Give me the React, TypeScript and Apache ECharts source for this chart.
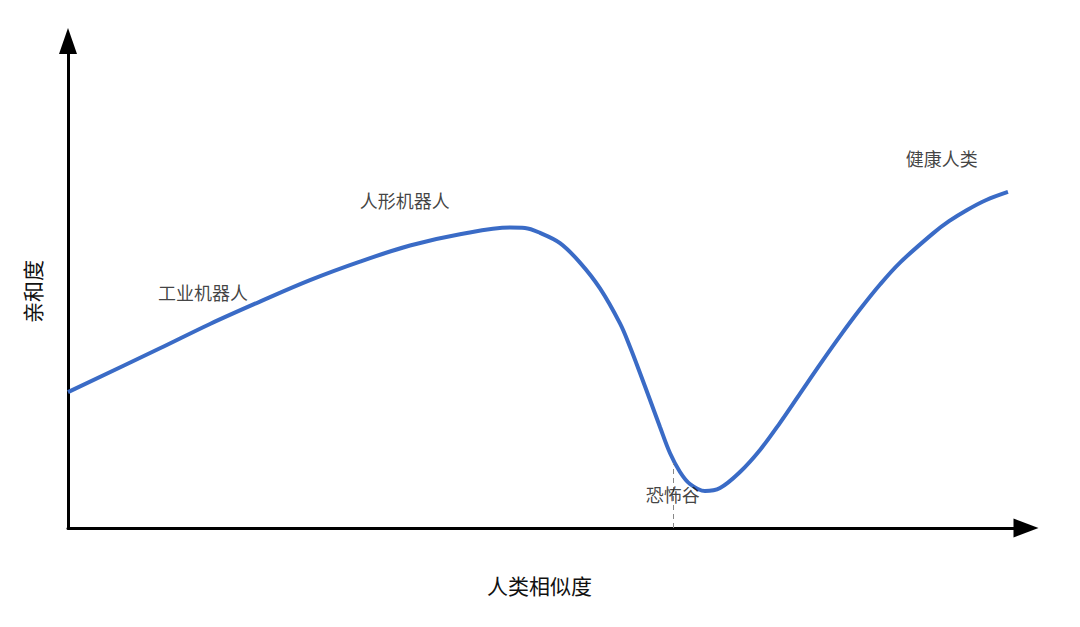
import React, { useEffect, useRef } from "react";
import * as echarts from "echarts";

// Curve: human likeness (x, 0-100) vs affinity (y, 0-100)
const likeness = [0, 9.61, 14.84, 20.06, 25.29, 30.51, 35.74, 40.96, 46.19, 47.75, 49.32, 51.41, 53.5, 55.59, 57.68, 58.73, 59.77, 60.82, 61.86, 62.9, 63.95, 64.99, 66.56, 68.13, 70.22, 72.31, 74.4, 76.49, 78.58, 80.67, 82.76, 84.85, 86.94, 90.39, 92.06, 93.95, 95.9, 98.22];
const affinity = [27.9, 36.9, 41.9, 46.5, 50.9, 54.7, 58.0, 60.3, 61.7, 61.6, 60.6, 58.5, 54.5, 49.2, 42.0, 37.17, 31.83, 26.28, 20.74, 15.4, 11.5, 9.03, 7.6, 8.21, 11.5, 16.02, 21.6, 27.6, 33.6, 39.4, 44.9, 50.0, 54.5, 60.5, 63.0, 65.3, 67.3, 69.0];

// Annotation labels (data coordinates)
const labelNames = ["工业机器人", "人形机器人", "恐怖谷", "健康人类"];
const labelX = [14.1, 35.2, 63.2, 91.3];
const labelY = [48.5, 67.4, 7.0, 76.0];

// Uncanny valley marker
const valleyX = 63.2;
const valleyTop = 13.3;

const xName = "人类相似度";
const yName = "亲和度";

export default function App() {
  const ref = useRef<HTMLDivElement>(null);
  useEffect(() => {
    if (!ref.current) return;
    const chart = echarts.init(ref.current, null, { renderer: "svg" });
    const font = "'Noto Sans CJK SC', 'Noto Sans', sans-serif";
    chart.setOption({
      animation: false,
      backgroundColor: "#ffffff",
      textStyle: { fontFamily: font },
      grid: { left: 68, right: 55, top: 41, bottom: 99 },
      xAxis: {
        type: "value",
        min: 0,
        max: 100,
        name: xName,
        nameLocation: "middle",
        nameGap: 46,
        nameTextStyle: { fontSize: 21, color: "#111", fontFamily: font, padding: [0, 14, 0, 0] },
        axisLine: { show: true, lineStyle: { color: "#000", width: 3 }, symbol: ["none", "triangle"], symbolSize: [19, 25], symbolOffset: [0, 1] },
        axisTick: { show: false },
        axisLabel: { show: false },
        splitLine: { show: false },
      },
      yAxis: {
        type: "value",
        min: 0,
        max: 100,
        name: yName,
        nameLocation: "middle",
        nameGap: 26,
        nameRotate: 90,
        nameTextStyle: { fontSize: 21, color: "#111", fontFamily: font, padding: [0, 14, 0, 0] },
        axisLine: { show: true, lineStyle: { color: "#000", width: 3 }, symbol: ["none", "triangle"], symbolSize: [18, 26], symbolOffset: [0, 0] },
        axisTick: { show: false },
        axisLabel: { show: false },
        splitLine: { show: false },
      },
      series: [
        {
          type: "line",
          data: likeness.map((x, i) => [x, affinity[i]]),
          smooth: 0.35,
          showSymbol: false,
          symbol: "none",
          lineStyle: { color: "#3a6bc6", width: 4 },
          markLine: {
            silent: true,
            symbol: ["none", "none"],
            label: { show: false },
            lineStyle: { color: "#888", width: 1, type: [5, 4] },
            data: [[{ coord: [valleyX, 0] }, { coord: [valleyX, valleyTop] }]],
          },
          z: 3,
        },
        {
          type: "scatter",
          symbolSize: 0,
          data: labelNames.map((n, i) => ({ name: n, value: [labelX[i], labelY[i]] })),
          label: {
            show: true,
            position: "inside",
            formatter: (p: any) => p.name,
            fontSize: 18,
            color: "#111",
            fontFamily: font,
          },
          z: 5,
        },
      ],
    });
    return () => chart.dispose();
  }, []);
  return (
    <div
      ref={ref}
      style={{ position: "fixed", left: 0, top: 0, width: 1080, height: 627, background: "#fff" }}
    />
  );
}
